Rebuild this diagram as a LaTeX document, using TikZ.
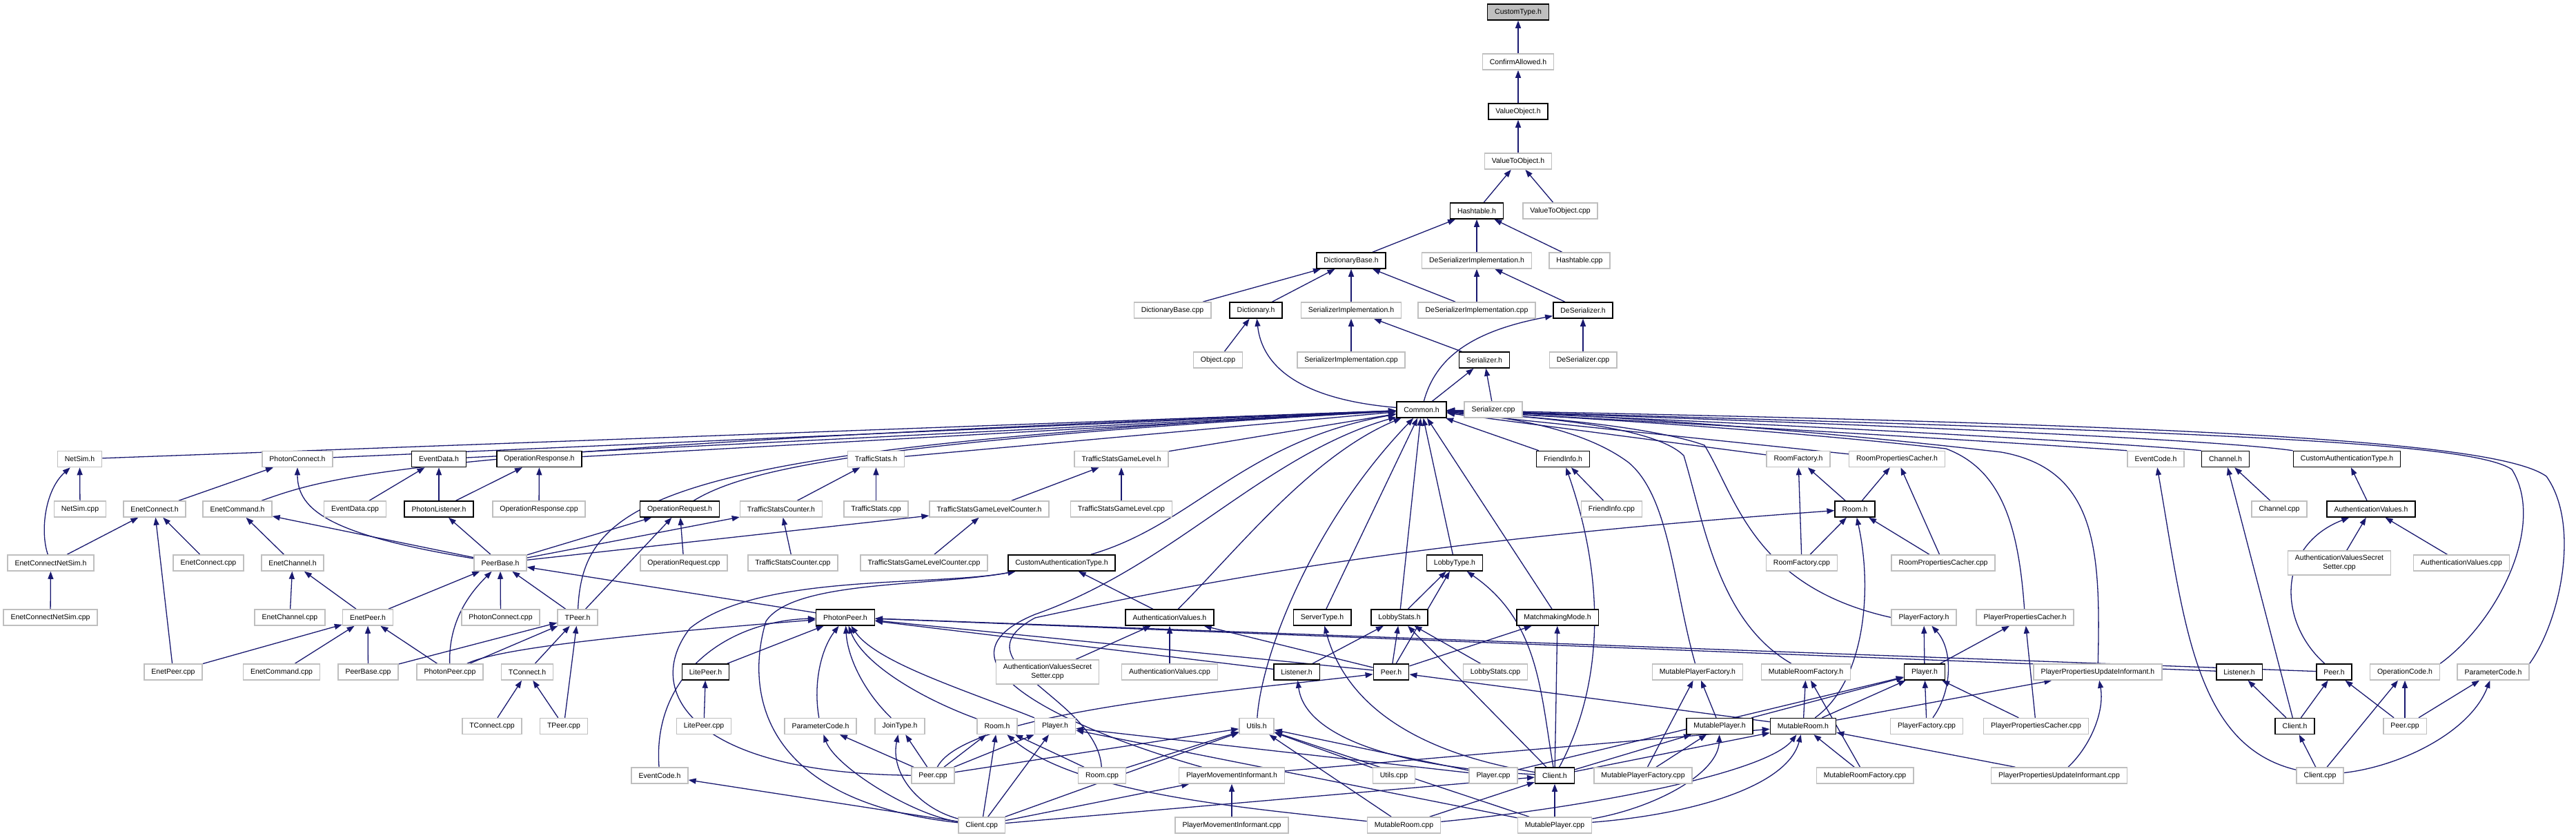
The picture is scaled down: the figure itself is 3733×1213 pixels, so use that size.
\documentclass[tikz,border=0pt]{standalone}
\usepackage{fontspec}
\setmainfont{Liberation Sans}
\usetikzlibrary{arrows.meta}
\definecolor{edgec}{HTML}{191970}
\definecolor{gborder}{HTML}{BFBFBF}
\definecolor{mainfill}{HTML}{BFBFBF}
\pgfdeclarelayer{bg}
\pgfsetlayers{bg,main}
\begin{document}
\begin{tikzpicture}[x=1pt,y=-1pt,
  box/.style={draw, rectangle, line width=1.5pt, inner xsep=10.5pt, inner ysep=0pt, minimum height=23pt, font=\fontsize{10.5}{12.5}\selectfont, fill=white},
  nodeg/.style={box, draw=gborder},
  nodeb/.style={box, draw=black},
  nodem/.style={box, draw=black, fill=mainfill},
  twol/.style={align=center, minimum height=35pt},
  dep/.style={draw=edgec, line width=1.3pt, -{Triangle[length=11pt,width=8pt]}}
]
\useasboundingbox (0,0) rectangle (3733,1213);
% ---------- top chain
\node[nodem] (ct) at (2200,17.5) {CustomType.h};
\node[nodeg] (ca) at (2200,89.5) {ConfirmAllowed.h};
\node[nodeb] (vo) at (2200,161.5) {ValueObject.h};
\node[nodeg] (vtoh) at (2200,233.5) {ValueToObject.h};
\node[nodeb] (ht) at (2140,305.5) {Hashtable.h};
\node[nodeg] (vtoc) at (2261,305.5) {ValueToObject.cpp};
\node[nodeb] (dbh) at (1958,377.5) {DictionaryBase.h};
\node[nodeg] (dsih) at (2140,377.5) {DeSerializerImplementation.h};
\node[nodeg] (htc) at (2289,377.5) {Hashtable.cpp};
\node[nodeg] (dbc) at (1699,449.5) {DictionaryBase.cpp};
\node[nodeb] (dich) at (1820,449.5) {Dictionary.h};
\node[nodeg] (sih) at (1958,449.5) {SerializerImplementation.h};
\node[nodeg] (dsic) at (2140,449.5) {DeSerializerImplementation.cpp};
\node[nodeb] (dsh) at (2294,449.5) {DeSerializer.h};
\node[nodeg] (objc) at (1765,521.5) {Object.cpp};
\node[nodeg] (sic) at (1958,521.5) {SerializerImplementation.cpp};
\node[nodeb] (serh) at (2151,521.5) {Serializer.h};
\node[nodeg] (dsc) at (2294,521.5) {DeSerializer.cpp};
\node[nodeb] (com) at (2060,593.5) {Common.h};
\node[nodeg] (serc) at (2164,593.5) {Serializer.cpp};
% ---------- row A
\node[nodeg] (nsh) at (115.5,665) {NetSim.h};
\node[nodeg] (pch) at (431,665) {PhotonConnect.h};
\node[nodeb] (edh) at (636,665) {EventData.h};
\node[nodeb] (orsh) at (781.5,665) {OperationResponse.h};
\node[nodeg] (tsh) at (1269.5,665) {TrafficStats.h};
\node[nodeg] (tsglh) at (1625,665) {TrafficStatsGameLevel.h};
\node[nodeb] (fih) at (2265,665) {FriendInfo.h};
\node[nodeg] (rfh) at (2606,665) {RoomFactory.h};
\node[nodeg] (rpch) at (2749,665) {RoomPropertiesCacher.h};
\node[nodeg] (ecr) at (3124,665) {EventCode.h};
\node[nodeb] (chh) at (3225,665) {Channel.h};
\node[nodeb] (catr) at (3401,665) {CustomAuthenticationType.h};
% ---------- row B
\node[nodeg] (nsc) at (116,737.5) {NetSim.cpp};
\node[nodeg] (ench) at (224,737.5) {EnetConnect.h};
\node[nodeg] (ecmh) at (344,737.5) {EnetCommand.h};
\node[nodeg] (edc) at (514.5,737.5) {EventData.cpp};
\node[nodeb] (plh) at (636,737.5) {PhotonListener.h};
\node[nodeg] (orsc) at (781,737.5) {OperationResponse.cpp};
\node[nodeb] (orqh) at (985,737.5) {OperationRequest.h};
\node[nodeg] (tsch) at (1132,737.5) {TrafficStatsCounter.h};
\node[nodeg] (tsc) at (1269.5,737.5) {TrafficStats.cpp};
\node[nodeg] (tsglch) at (1433.5,737.5) {TrafficStatsGameLevelCounter.h};
\node[nodeg] (tsglc) at (1625,737.5) {TrafficStatsGameLevel.cpp};
\node[nodeg] (fic) at (2335.5,737.5) {FriendInfo.cpp};
\node[nodeb] (roomr) at (2688,737.5) {Room.h};
\node[nodeg] (chc) at (3303,737.5) {Channel.cpp};
\node[nodeb] (avr) at (3436,737.5) {AuthenticationValues.h};
% ---------- row C
\node[nodeg] (encnsh) at (73.5,815.5) {EnetConnectNetSim.h};
\node[nodeg] (encc) at (302,815.5) {EnetConnect.cpp};
\node[nodeg] (echh) at (424,815.5) {EnetChannel.h};
\node[nodeg] (pbh) at (725,815.5) {PeerBase.h};
\node[nodeg] (orqc) at (991,815.5) {OperationRequest.cpp};
\node[nodeg] (tscc) at (1149,815.5) {TrafficStatsCounter.cpp};
\node[nodeg] (tsglcc) at (1339,815.5) {TrafficStatsGameLevelCounter.cpp};
\node[nodeb] (catl) at (1538.5,815.5) {CustomAuthenticationType.h};
\node[nodeb] (lth) at (2108,815.5) {LobbyType.h};
\node[nodeg] (rfc) at (2611,815.5) {RoomFactory.cpp};
\node[nodeg] (rpcc) at (2816,815.5) {RoomPropertiesCacher.cpp};
\node[nodeg,twol] (avssr) at (3390,815.5) {AuthenticationValuesSecret\\Setter.cpp};
\node[nodeg] (avcr) at (3567,815.5) {AuthenticationValues.cpp};
% ---------- row D
\node[nodeg] (encnsc) at (73,894.5) {EnetConnectNetSim.cpp};
\node[nodeg] (echc) at (420,894.5) {EnetChannel.cpp};
\node[nodeg] (eph) at (533,894.5) {EnetPeer.h};
\node[nodeg] (pcc) at (725.5,894.5) {PhotonConnect.cpp};
\node[nodeg] (tph) at (837,894.5) {TPeer.h};
\node[nodeb] (pph) at (1225,894.5) {PhotonPeer.h};
\node[nodeb] (avl) at (1695,894.5) {AuthenticationValues.h};
\node[nodeb] (sth) at (1916,894.5) {ServerType.h};
\node[nodeb] (lsh) at (2028,894.5) {LobbyStats.h};
\node[nodeb] (mmh) at (2257,894.5) {MatchmakingMode.h};
\node[nodeg] (pfh) at (2788,894.5) {PlayerFactory.h};
\node[nodeg] (ppch) at (2934.5,894.5) {PlayerPropertiesCacher.h};
% ---------- row E
\node[nodeg] (epc) at (251,973.5) {EnetPeer.cpp};
\node[nodeg] (ecmc) at (408,973.5) {EnetCommand.cpp};
\node[nodeg] (pbc) at (533.5,973.5) {PeerBase.cpp};
\node[nodeg] (ppc) at (652,973.5) {PhotonPeer.cpp};
\node[nodeg] (tch) at (764,973.5) {TConnect.h};
\node[nodeb] (lph) at (1022.5,973.5) {LitePeer.h};
\node[nodeg,twol] (avssl) at (1518,973.5) {AuthenticationValuesSecret\\Setter.cpp};
\node[nodeg] (avcl) at (1695,973.5) {AuthenticationValues.cpp};
\node[nodeb] (lisl) at (1879,973.5) {Listener.h};
\node[nodeb] (peerl) at (2016,973.5) {Peer.h};
\node[nodeg] (lsc) at (2167,973.5) {LobbyStats.cpp};
\node[nodeg] (mpfh) at (2460,973.5) {MutablePlayerFactory.h};
\node[nodeg] (mrfh) at (2617,973.5) {MutableRoomFactory.h};
\node[nodeb] (plyr) at (2789,973.5) {Player.h};
\node[nodeg] (ppuih) at (3040,973.5) {PlayerPropertiesUpdateInformant.h};
\node[nodeb] (lisr) at (3245,973.5) {Listener.h};
\node[nodeb] (peerr) at (3382.5,973.5) {Peer.h};
\node[nodeg] (oph) at (3485,973.5) {OperationCode.h};
\node[nodeg] (pcr) at (3613,973.5) {ParameterCode.h};
% ---------- row F
\node[nodeg] (tcc) at (713,1052) {TConnect.cpp};
\node[nodeg] (tpc) at (817,1052) {TPeer.cpp};
\node[nodeg] (lpc) at (1020,1052) {LitePeer.cpp};
\node[nodeg] (pcl) at (1189,1052) {ParameterCode.h};
\node[nodeg] (jth) at (1304,1052) {JoinType.h};
\node[nodeg] (rooml) at (1445,1052) {Room.h};
\node[nodeg] (plyl) at (1529,1052) {Player.h};
\node[nodeg] (uth) at (1821,1052) {Utils.h};
\node[nodeb] (mph) at (2492,1052) {MutablePlayer.h};
\node[nodeb] (mrh) at (2613,1052) {MutableRoom.h};
\node[nodeg] (pfc) at (2792,1052) {PlayerFactory.cpp};
\node[nodeg] (ppcc) at (2950.5,1052) {PlayerPropertiesCacher.cpp};
\node[nodeb] (clhr) at (3325.5,1052) {Client.h};
\node[nodeg] (peercr) at (3485,1052) {Peer.cpp};
% ---------- row G
\node[nodeg] (ecl) at (956,1123.5) {EventCode.h};
\node[nodeg] (peercl) at (1352,1123.5) {Peer.cpp};
\node[nodeg] (roomc) at (1597,1123.5) {Room.cpp};
\node[nodeg] (pmih) at (1785,1123.5) {PlayerMovementInformant.h};
\node[nodeg] (utc) at (2020,1123.5) {Utils.cpp};
\node[nodeg] (plc) at (2164,1123.5) {Player.cpp};
\node[nodeb] (clhl) at (2253,1123.5) {Client.h};
\node[nodeg] (mpfc) at (2381,1123.5) {MutablePlayerFactory.cpp};
\node[nodeg] (mrfc) at (2702.5,1123.5) {MutableRoomFactory.cpp};
\node[nodeg] (ppuic) at (2984,1123.5) {PlayerPropertiesUpdateInformant.cpp};
\node[nodeg] (clcr) at (3362,1123.5) {Client.cpp};
% ---------- row H
\node[nodeg] (clcl) at (1422.6,1195.5) {Client.cpp};
\node[nodeg] (pmic) at (1785,1195.5) {PlayerMovementInformant.cpp};
\node[nodeg] (mrc) at (2034.5,1195.5) {MutableRoom.cpp};
\node[nodeg] (mpc) at (2253,1195.5) {MutablePlayer.cpp};

\begin{pgfonlayer}{bg}
\fill[white] (0,0) rectangle (3733,1213);
% top
\draw[dep] (ca) -- (ct);
\draw[dep] (vo) -- (ca);
\draw[dep] (vtoh) -- (vo);
\draw[dep] (ht) -- (vtoh);
\draw[dep] (vtoc) -- (vtoh);
\draw[dep] (dbh) -- (ht);
\draw[dep] (dsih) -- (ht);
\draw[dep] (htc) -- (ht);
\draw[dep] (dbc) -- (dbh);
\draw[dep] (dich) -- (dbh);
\draw[dep] (sih) -- (dbh);
\draw[dep] (dsic) -- (dbh);
\draw[dep] (dsic) -- (dsih);
\draw[dep] (dsh) -- (dsih);
\draw[dep] (objc) -- (dich);
\draw[dep] (com) .. controls (1900,580) and (1830,540) .. (dich);
\draw[dep] (sic) -- (sih);
\draw[dep] (serh) -- (sih);
\draw[dep] (com) .. controls (2080,520) and (2130,480) .. (dsh);
\draw[dep] (dsc) -- (dsh);
\draw[dep] (com) -- (serh);
\draw[dep] (serc) -- (serh);
% into Common.h
\foreach \n in {nsh,pch,edh,orsh,tsh,tsglh,fih,rfh,rpch,lsh,lth,sth,mmh}
  \draw[dep] (\n) -- (com);
\draw[dep] (ecmh) .. controls (480,690) and (580,650) .. (com);
\draw[dep] (tph) .. controls (845,720) and (960,650) .. (com);
\draw[dep] (orqh) .. controls (1080,680) and (1250,640) .. (com);
\draw[dep] (catl) .. controls (1730,760) and (1800,640) .. (com);
\draw[dep] (avl) .. controls (1790,800) and (1900,660) .. (com);
\draw[dep] (uth) .. controls (1828,950) and (1900,760) .. (com);
\draw[dep] (pmih) .. controls (1560,1060) and (1330,960) .. (1500,890) .. controls (1700,820) and (1830,660) .. (com);
\draw[dep] (mpfh) .. controls (2425,850) and (2420,720) .. (2360,670) .. controls (2300,625) and (2200,605) .. (com);
\draw[dep] (mrfh) .. controls (2490,900) and (2470,760) .. (2440,660) .. controls (2400,620) and (2250,605) .. (com);
\draw[dep] (pfh.west) .. controls (2540,850) and (2516,720) .. (2470,645) .. controls (2400,620) and (2250,605) .. (com);
\draw[dep] (ppch) .. controls (2925,760) and (2900,680) .. (2820,650) .. controls (2600,625) and (2300,605) .. (com);
\draw[dep] (ppuih) .. controls (3044,800) and (3040,680) .. (2900,655) .. controls (2600,620) and (2300,600) .. (com);
\draw[dep] (ecr.north west) .. controls (2900,640) and (2400,610) .. (com);
\draw[dep] (chh.north west) .. controls (3050,640) and (2500,610) .. (com);
\draw[dep] (catr.north west) .. controls (3200,635) and (2600,610) .. (com);
\draw[dep] (oph.north east) .. controls (3620,900) and (3690,760) .. (3640,680) .. controls (3580,640) and (3200,625) .. (com);
\draw[dep] (pcr.north east) .. controls (3710,900) and (3740,760) .. (3690,690) .. controls (3620,640) and (3200,615) .. (com);
% left group
\draw[dep] (nsc) -- (nsh);
\draw[dep] (encnsh) .. controls (58,770) and (65,710) .. (nsh);
\draw[dep] (ench) -- (pch);
\draw[dep] (pbh) .. controls (480,775) and (431,740) .. (pch);
\draw[dep] (edc) -- (edh);
\draw[dep] (plh) -- (edh);
\draw[dep] (plh) -- (orsh);
\draw[dep] (orsc) -- (orsh);
\draw[dep] (encnsh) -- (ench);
\draw[dep] (encc) -- (ench);
\draw[dep] (epc) -- (ench);
\draw[dep] (echh) -- (ecmh);
\draw[dep] (pbh) -- (ecmh);
\draw[dep] (pbh) -- (plh);
\draw[dep] (pbh) -- (orqh);
\draw[dep] (pbh) -- (tsch);
\draw[dep] (pbh) -- (tsglch);
\draw[dep] (tph) -- (orqh);
\draw[dep] (orqc) -- (orqh);
\draw[dep] (tsch) -- (tsh);
\draw[dep] (tsc) -- (tsh);
\draw[dep] (tscc) -- (tsch);
\draw[dep] (tsglch) -- (tsglh);
\draw[dep] (tsglc) -- (tsglh);
\draw[dep] (tsglcc) -- (tsglch);
\draw[dep] (encnsc) -- (encnsh);
\draw[dep] (echc) -- (echh);
\draw[dep] (eph) -- (echh);
\draw[dep] (eph) -- (pbh);
\draw[dep] (ppc) .. controls (650,900) and (680,860) .. (pbh);
\draw[dep] (pcc) -- (pbh);
\draw[dep] (tph) -- (pbh);
\draw[dep] (pph) -- (pbh);
\draw[dep] (epc) -- (eph);
\draw[dep] (ecmc) -- (eph);
\draw[dep] (pbc) -- (eph);
\draw[dep] (ppc) -- (eph);
\draw[dep] (pbc) -- (tph);
\draw[dep] (ppc) -- (tph);
\draw[dep] (ppc) .. controls (720,940) and (900,920) .. (pph);
\draw[dep] (tch) -- (tph);
\draw[dep] (tpc) -- (tph);
\draw[dep] (tcc) -- (tch);
\draw[dep] (tpc) -- (tch);
\draw[dep] (lph) -- (pph);
\draw[dep] (lpc) -- (lph);
\draw[dep] (pcl) .. controls (1178,990) and (1190,940) .. (pph);
\draw[dep] (jth) .. controls (1250,1000) and (1228,950) .. (pph);
\draw[dep] (rooml) .. controls (1330,1010) and (1250,960) .. (pph);
\draw[dep] (plyl) .. controls (1400,1000) and (1270,960) .. (pph);
\draw[dep] (ecl) .. controls (945,980) and (1050,900) .. (pph);
\draw[dep] (peerl) -- (pph);
\draw[dep] (lisl) -- (pph);
\draw[dep] (peerr) -- (pph);
\draw[dep] (lisr) -- (pph);
% LoadBalancing
\draw[dep] (avl) -- (catl);
\draw[dep] (peercl) .. controls (1000,1120) and (930,1000) .. (1000,910) .. controls (1100,830) and (1350,850) .. (catl);
\draw[dep] (clcl) .. controls (1100,1160) and (1080,1000) .. (1110,900) .. controls (1150,840) and (1350,850) .. (catl);
\draw[dep] (avssl) -- (avl);
\draw[dep] (avcl) -- (avl);
\draw[dep] (peerl) -- (avl);
\draw[dep] (peercl) -- (pcl);
\draw[dep] (peercl) -- (jth);
\draw[dep] (peercl) -- (rooml);
\draw[dep] (peercl) -- (plyl);
\draw[dep] (peercl) -- (uth);
\draw[dep] (peercl) .. controls (1400,1030) and (1800,1000) .. (peerl);
\draw[dep] (clcl) -- (ecl);
\draw[dep] (clcl) .. controls (1320,1180) and (1210,1110) .. (pcl);
\draw[dep] (clcl) .. controls (1330,1170) and (1290,1120) .. (jth);
\draw[dep] (clcl) -- (rooml);
\draw[dep] (clcl) -- (plyl);
\draw[dep] (clcl) -- (uth);
\draw[dep] (clcl) -- (pmih);
\draw[dep] (clcl) -- (clhl);
\draw[dep] (roomc) -- (rooml);
\draw[dep] (roomc) -- (uth);
\draw[dep] (roomc) .. controls (1590,1010) and (1380,960) .. (1500,895) .. controls (1800,830) and (2100,780) .. (roomr);
\draw[dep] (pmic) -- (pmih);
\draw[dep] (pmih) -- (mrh);
\draw[dep] (utc) -- (uth);
\draw[dep] (mrc) -- (uth);
\draw[dep] (plc) -- (uth);
\draw[dep] (mpc) -- (uth);
\draw[dep] (plc) -- (plyl);
\draw[dep] (mpc) -- (plyl);
\draw[dep] (mrc) .. controls (1800,1170) and (1560,1150) .. (rooml);
\draw[dep] (mrc) .. controls (2300,1170) and (2560,1120) .. (mrh);
\draw[dep] (mrc) -- (clhl);
\draw[dep] (mpc) -- (clhl);
\draw[dep] (mpc) .. controls (2400,1170) and (2490,1120) .. (mph);
\draw[dep] (mpc) .. controls (2450,1180) and (2590,1140) .. (mrh);
\draw[dep] (plc) -- (plyr);
\draw[dep] (clhl) -- (mrh);
\draw[dep] (clhl) -- (mph);
\draw[dep] (clhl) -- (mmh);
\draw[dep] (clhl) -- (lsh);
\draw[dep] (clhl) .. controls (2232,1000) and (2230,900) .. (lth);
\draw[dep] (clhl) .. controls (2320,1000) and (2330,850) .. (fih);
\draw[dep] (clhl) .. controls (2050,1090) and (1950,1020) .. (sth);
\draw[dep] (clhl) .. controls (2000,1110) and (1890,1060) .. (lisl);
\draw[dep] (peerl) -- (lsh);
\draw[dep] (peerl) -- (lth);
\draw[dep] (peerl) -- (mmh);
\draw[dep] (lisl) -- (lsh);
\draw[dep] (lsc) -- (lsh);
\draw[dep] (lsh) -- (lth);
\draw[dep] (mrh) -- (mrfh);
\draw[dep] (mrh) .. controls (2700,990) and (2715,860) .. (roomr);
\draw[dep] (mrh) -- (plyr);
\draw[dep] (mrh) -- (ppuih);
\draw[dep] (mrh) -- (peerl);
\draw[dep] (mph) -- (mpfh);
\draw[dep] (mph) -- (plyr);
\draw[dep] (mpfc) -- (mpfh);
\draw[dep] (mpfc) -- (mph);
\draw[dep] (mrfc) -- (mrfh);
\draw[dep] (mrfc) -- (mrh);
\draw[dep] (ppuic) .. controls (3030,1080) and (3050,1030) .. (ppuih);
\draw[dep] (ppuic) -- (mrh);
\draw[dep] (fic) -- (fih);
\draw[dep] (roomr) -- (rfh);
\draw[dep] (roomr) -- (rpch);
\draw[dep] (rfc) -- (rfh);
\draw[dep] (rfc) -- (roomr);
\draw[dep] (rpcc) -- (roomr);
\draw[dep] (rpcc) -- (rpch);
\draw[dep] (plyr) -- (pfh);
\draw[dep] (plyr) -- (ppch);
\draw[dep] (pfc) .. controls (2830,1000) and (2830,940) .. (pfh);
\draw[dep] (pfc) -- (plyr);
\draw[dep] (ppcc) -- (plyr);
\draw[dep] (ppcc) -- (ppch);
% right group
\draw[dep] (chc) -- (chh);
\draw[dep] (clhr) -- (chh);
\draw[dep] (clcr) .. controls (3180,1080) and (3165,900) .. (ecr);
\draw[dep] (avr) -- (catr);
\draw[dep] (avssr) -- (avr);
\draw[dep] (avcr) -- (avr);
\draw[dep] (peerr) .. controls (3300,900) and (3300,790) .. (avr);
\draw[dep] (clhr) -- (lisr);
\draw[dep] (clhr) -- (peerr);
\draw[dep] (peercr) -- (peerr);
\draw[dep] (peercr) -- (oph);
\draw[dep] (peercr) -- (pcr);
\draw[dep] (clcr) -- (clhr);
\draw[dep] (clcr) -- (oph);
\draw[dep] (clcr) .. controls (3480,1110) and (3580,1060) .. (pcr);
\end{pgfonlayer}
\end{tikzpicture}
\end{document}
